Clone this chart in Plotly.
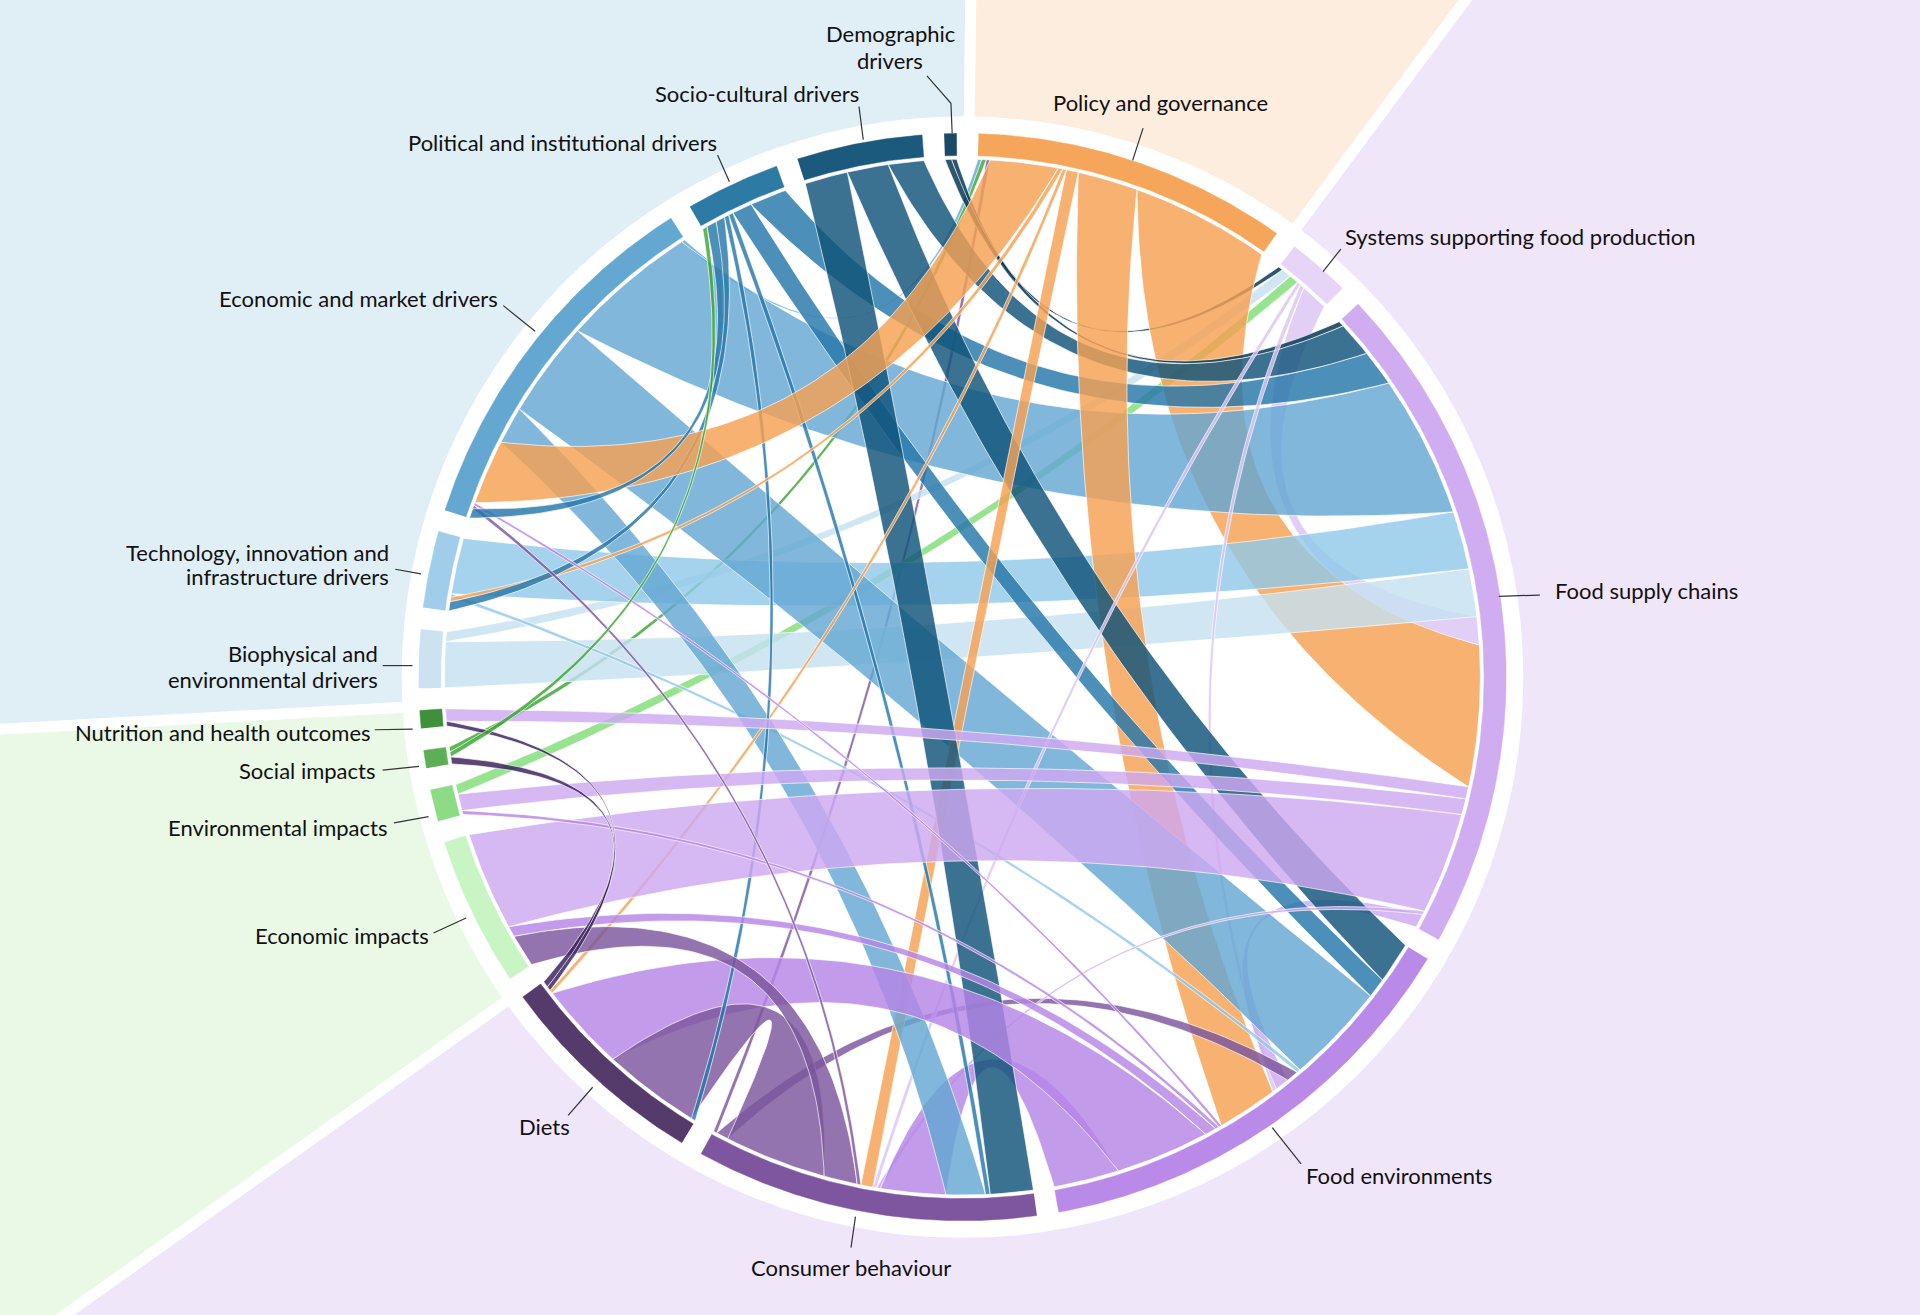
import numpy as np
import plotly.graph_objects as go

# ---------------- data ----------------
node_keys = ["POL", "SYS", "FSC", "FE", "CB", "DIE", "ECI", "ENV", "SOC", "NUT",
             "BIO", "TEC", "ECM", "PIN", "SCU", "DEM"]
node_names = ["Policy and governance", "Systems supporting food production",
              "Food supply chains", "Food environments", "Consumer behaviour", "Diets",
              "Economic impacts", "Environmental impacts", "Social impacts",
              "Nutrition and health outcomes", "Biophysical and environmental drivers",
              "Technology, innovation and infrastructure drivers",
              "Economic and market drivers", "Political and institutional drivers",
              "Socio-cultural drivers", "Demographic drivers"]
# size of every sector (total of its links)
node_size = [33.6, 6.7, 72.2, 48.6, 36.6, 22.9, 16.0, 3.4, 1.9, 1.9,
             6.2, 8.2, 39.7, 10.1, 13.4, 1.3]

link_src = ["DEM", "DEM",
            "SCU", "SCU", "SCU",
            "PIN", "PIN", "PIN", "PIN", "PIN", "PIN",
            "POL", "POL", "POL", "POL", "POL", "POL",
            "ECM", "ECM", "ECM", "ECM",
            "TEC", "TEC",
            "BIO", "BIO",
            "SYS", "SYS", "SYS",
            "FSC", "FSC", "FSC", "FSC", "FSC",
            "FE", "FE", "FE", "FE", "FE",
            "CB", "CB", "CB", "CB", "CB",
            "DIE", "DIE",
            "SOC", "SOC",
            "ENV"]
link_tgt = ["FSC", "SYS",
            "CB", "FE", "FSC",
            "ECM", "TEC", "DIE", "CB", "FE", "FSC",
            "ECM", "TEC", "DIE", "CB", "FE", "FSC",
            "CB", "FE", "FSC", "POL",
            "FE", "FSC",
            "FSC", "SYS",
            "FSC", "FE", "CB",
            "NUT", "ENV", "ECI", "FE", "CB",
            "ENV", "ECI", "DIE", "CB", "ECM",
            "ECM", "ECI", "DIE", "FE", "POL",
            "NUT", "SOC",
            "PIN", "POL",
            "SYS"]
link_val = [0.6, 0.5,
            4.6, 4.4, 3.8,
            1.1, 1.0, 0.5, 0.5, 2.1, 3.9,
            7.3, 0.5, 0.4, 1.3, 6.5, 15.0,
            4.2, 10.8, 15.2, 0.4,
            0.4, 6.2,
            5.1, 1.1,
            3.0, 0.5, 0.4,
            1.3, 1.7, 10.9, 1.5, 0.4,
            0.4, 1.2, 10.0, 7.0, 0.3,
            0.4, 3.6, 11.0, 1.3, 0.4,
            0.5, 0.7,
            0.5, 0.5,
            1.0]

node_color = ["#F5A65B", "#E6D5F6", "#CFADF0", "#B98AE7", "#7E569F", "#553B6B",
              "#C9F5C4", "#8EDB86", "#5DAE57", "#3F8F3B", "#CCE2F0", "#A0CDE9",
              "#64A8D2", "#2D7AA5", "#1B5A7C", "#1B4A66"]
link_color = ["#F7B272", "#E2CFF6", "#D6B8F3", "#C39BEB", "#9374AE", "#5C4577",
              "#C9F5C4", "#97E38F", "#5FB659", "#3F8F3B", "#D0E6F3", "#A5D2EC",
              "#80B7DA", "#4C8FB9", "#3B7291", "#24566F"]

# background sectors: (start angle, end angle, colour)
bg_start = [266.9, 0.7, 36.6, 234.6]
bg_end = [360.7, 36.6, 234.6, 266.9]
bg_color = ["#E0EEF6", "#FDEDDF", "#F0E6F9", "#E9F9E6"]

# labels
label_text = ["Demographic", "drivers", "Socio-cultural drivers",
              "Political and institutional drivers", "Economic and market drivers",
              "Technology, innovation and", "infrastructure drivers",
              "Biophysical and", "environmental drivers",
              "Nutrition and health outcomes", "Social impacts", "Environmental impacts",
              "Economic impacts", "Diets", "Consumer behaviour", "Food environments",
              "Food supply chains", "Systems supporting food production",
              "Policy and governance"]
label_x = [727, 727, 618, 459, 408, 319, 319, 310, 310, 305, 308, 318, 352, 445, 695,
           1065, 1268, 1097, 948]
label_y = [27, 49, 76, 116, 244, 451, 471, 534, 555, 598, 629, 676, 764, 920, 1035,
           960, 482, 193, 84]
label_anchor = ["center", "center", "center", "center", "right", "right", "right",
                "right", "right", "right", "right", "right", "right", "center", "center",
                "left", "left", "left", "center"]
leaders = [[(757, 62), (776.6, 84.4), (777.6, 108.9)],
           [(701.5, 87), (705, 114)],
           [(586, 126.6), (595.7, 148.4)],
           [(411, 249.6), (437, 270.6)],
           [(322.8, 464.9), (343.8, 468.7)],
           [(312.5, 543.6), (336.9, 543.6)],
           [(306, 596), (337, 595.5)],
           [(312.5, 629), (342.2, 626)],
           [(321.8, 672), (350, 667)],
           [(354, 762), (380.7, 749.7)],
           [(464, 911), (484, 888)],
           [(695, 1019), (698.6, 993.6)],
           [(1039, 921), (1062.5, 950.6)],
           [(1224, 487), (1257.5, 486)],
           [(1080.5, 221.9), (1095, 203.4)],
           [(925, 131), (933.5, 104.7)]]

# ---------------- geometry ----------------
CX, CY = 786.0, 553.0
R_OUT, R_IN, R_LINK, R_WHITE = 444.0, 426.0, 423.0, 458.0
START = 1.7
K = 0.52
ALPHA = 0.82

n = len(node_keys)
idx = {k: i for i, k in enumerate(node_keys)}
gap = (360.0 - sum(node_size)) / n
node_start = []
a = START
for s in node_size:
    node_start.append(a)
    a += s + gap

src_i = [idx[s] for s in link_src]
tgt_i = [idx[t] for t in link_tgt]

# place link ends inside each sector: incoming first, then outgoing,
# each ordered by the other sector's index (descending)
end_pos = {}
for i in range(n):
    inc = sorted([j for j in range(len(link_val)) if tgt_i[j] == i], key=lambda j: -src_i[j])
    out = sorted([j for j in range(len(link_val)) if src_i[j] == i], key=lambda j: -tgt_i[j])
    ends = [(j, "t") for j in inc] + [(j, "s") for j in out]
    tot = sum(link_val[j] for j, _ in ends)
    sc = node_size[i] / tot if tot > 0 else 1
    p = node_start[i]
    for j, role in ends:
        w = link_val[j] * sc
        end_pos[(j, role)] = (p, p + w)
        p += w


def pt(theta, r):
    t = np.radians(theta)
    return CX + r * np.sin(t), CY - r * np.cos(t)


def arc(a0, a1, r):
    m = max(int(abs(a1 - a0) / 0.4) + 2, 3)
    th = np.linspace(a0, a1, m)
    return pt(th, r)


def bez(t0, t1, r, m=70):
    x0, y0 = r * np.sin(np.radians(t0)), -r * np.cos(np.radians(t0))
    x2, y2 = r * np.sin(np.radians(t1)), -r * np.cos(np.radians(t1))
    cx, cy = K * (x0 + x2) / 2, K * (y0 + y2) / 2
    t = np.linspace(0, 1, m)
    x = (1 - t) ** 2 * x0 + 2 * t * (1 - t) * cx + t ** 2 * x2
    y = (1 - t) ** 2 * y0 + 2 * t * (1 - t) * cy + t ** 2 * y2
    return x + CX, y + CY


def rgba(hexc, a):
    h = hexc.lstrip("#")
    r, g, b = [int(h[k:k + 2], 16) for k in (0, 2, 4)]
    base = [min(255, max(0, round((c - (1 - a) * 255) / a))) for c in (r, g, b)]
    return f"rgba({base[0]},{base[1]},{base[2]},{a})"


fig = go.Figure()

# background sectors
shapes = []
for s, e, c in zip(bg_start, bg_end, bg_color):
    th = np.linspace(s, e, 60)
    xs, ys = pt(th, 2600)
    path = f"M {CX},{CY} " + " ".join(f"L {x:.1f},{y:.1f}" for x, y in zip(xs, ys)) + " Z"
    shapes.append(dict(type="path", path=path, fillcolor=c, line=dict(width=0),
                       layer="below", xref="x", yref="y"))
for s in bg_start:
    x1, y1 = pt(s, 2600)
    shapes.append(dict(type="line", x0=CX, y0=CY, x1=x1, y1=y1,
                       line=dict(color="white", width=11), layer="below",
                       xref="x", yref="y"))
shapes.append(dict(type="circle", x0=CX - R_WHITE, x1=CX + R_WHITE, y0=CY - R_WHITE,
                   y1=CY + R_WHITE, fillcolor="white", line=dict(width=0),
                   layer="below", xref="x", yref="y"))

# links: drawn grouped by target sector, then by source sector
draw_order = sorted(range(len(link_val)), key=lambda j: (tgt_i[j], src_i[j]))
for j in draw_order:
    a0, a1 = end_pos[(j, "s")]
    b0, b1 = end_pos[(j, "t")]
    xa, ya = arc(a0, a1, R_LINK)
    x1, y1 = bez(a1, b0, R_LINK)
    xb, yb = arc(b0, b1, R_LINK)
    x2, y2 = bez(b1, a0, R_LINK)
    xs = np.concatenate([xa, x1, xb, x2])
    ys = np.concatenate([ya, y1, yb, y2])
    fig.add_trace(go.Scatter(x=xs, y=ys, mode="lines", fill="toself",
                             fillcolor=rgba(link_color[src_i[j]], ALPHA),
                             line=dict(color="rgba(255,255,255,0.85)", width=0.8),
                             hoverinfo="skip", showlegend=False))

# sectors (outer ring)
for i in range(n):
    s, e = node_start[i], node_start[i] + node_size[i]
    xo, yo = arc(s, e, R_OUT)
    xi, yi = arc(e, s, R_IN)
    fig.add_trace(go.Scatter(x=np.concatenate([xo, xi]), y=np.concatenate([yo, yi]),
                             mode="lines", fill="toself", fillcolor=node_color[i],
                             line=dict(color=node_color[i], width=0.5),
                             hoverinfo="skip", showlegend=False, name=node_names[i]))

# leader lines
for ld in leaders:
    fig.add_trace(go.Scatter(x=[p[0] for p in ld], y=[p[1] for p in ld], mode="lines",
                             line=dict(color="#333333", width=1.2),
                             hoverinfo="skip", showlegend=False))

annotations = []
for t, x, y, an in zip(label_text, label_x, label_y, label_anchor):
    annotations.append(dict(x=x, y=y, text=t, showarrow=False, xanchor=an,
                            yanchor="middle", xref="x", yref="y",
                            font=dict(family="Lato", size=22, color="#111111")))

fig.update_layout(width=1920, height=1315, margin=dict(l=0, r=0, t=0, b=0),
                  paper_bgcolor="white", plot_bgcolor="white",
                  xaxis=dict(range=[0, 1568], visible=False, fixedrange=True),
                  yaxis=dict(range=[1074, 0], visible=False, fixedrange=True),
                  shapes=shapes, annotations=annotations, showlegend=False)

fig.write_html("out.html", config={"displayModeBar": False},
               post_script="document.body.style.margin='0px';document.body.style.overflow='hidden';")
